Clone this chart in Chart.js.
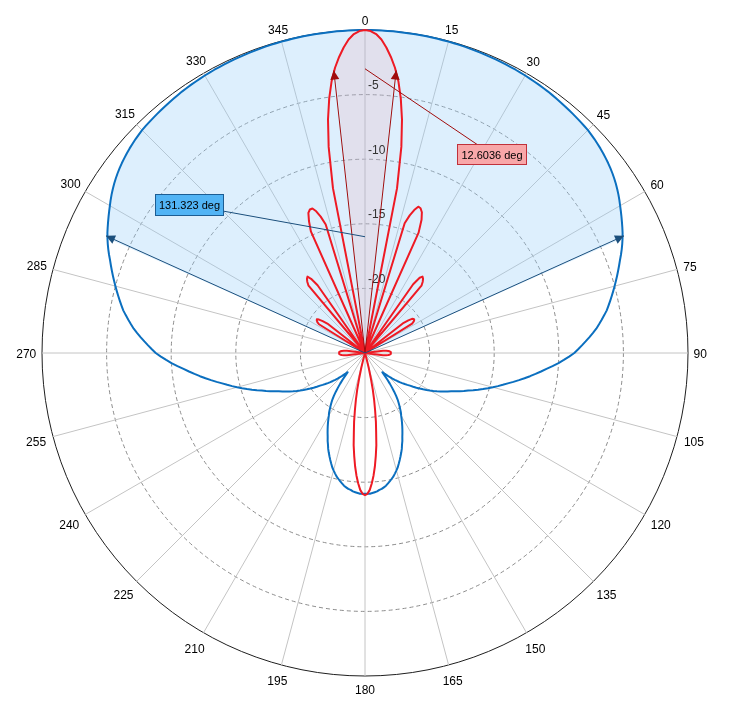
<!DOCTYPE html>
<html>
<head>
<meta charset="utf-8">
<title>Radiation pattern</title>
<script src="https://cdn.jsdelivr.net/npm/chart.js@4.4.1/dist/chart.umd.min.js"></script>
<style>
  html, body { margin: 0; padding: 0; background: #ffffff; }
  #wrap { width: 729px; height: 709px; position: relative; }
</style>
</head>
<body>
<div id="wrap"><canvas id="polarChart"></canvas></div>
<script>
// ---------- Data ----------
// one label per degree, 0 at the top, running clockwise
const angles = Array.from({ length: 360 }, (_, i) => i);
const angleTicks = [0, 15, 30, 45, 60, 75, 90, 105, 120, 135, 150, 165,
                    180, 195, 210, 225, 240, 255, 270, 285, 300, 315, 330, 345];
const radialTicks = [-20, -15, -10, -5];
const rMin = -25;
const rMax = 0;

// red pattern (dB), -25 = at / below the plot floor
const redDb = [
  0, -0.08, -0.3, -0.7, -1.3, -2.0, -2.8, -3.8, -5.1, -6.7,             // 0
  -8.8, -12.0, -25, -25, -25, -25, -25, -14.5, -13.8, -13.3,            // 10
  -12.95, -13.0, -13.25, -13.8, -14.8, -25, -25, -25, -25, -25,         // 20
  -25, -25, -25, -25, -25, -18.5, -17.8, -17.6, -17.7, -17.9,           // 30
  -18.2, -25, -25, -25, -25, -25, -25, -25, -25, -25,                   // 40
  -25, -25, -21.2, -20.8, -20.5, -20.4, -20.4, -20.5, -20.7, -25,       // 50
  -25, -25, -25, -25, -25, -25, -25, -25, -25, -25,                     // 60
  -25, -25, -25, -25, -25, -25, -25, -25, -25, -25,                     // 70
  -25, -25, -25, -23.6, -23.35, -23.2, -23.1, -23.05, -23.0, -23.0,     // 80
  -23.0, -23.0, -23.0, -23.05, -23.1, -23.2, -23.35, -23.6, -25, -25,   // 90
  -25, -25, -25, -25, -25, -25, -25, -25, -25, -25,                     // 100
  -25, -25, -25, -25, -25, -25, -25, -25, -25, -25,                     // 110
  -25, -25, -25, -25, -25, -25, -25, -25, -25, -25,                     // 120
  -25, -25, -25, -25, -25, -25, -25, -25, -25, -25,                     // 130
  -25, -25, -25, -25, -25, -25, -25, -25, -25, -25,                     // 140
  -25, -25, -25, -25, -25, -25, -25, -25, -25, -25,                     // 150
  -25, -25, -25, -25, -25, -24.5, -23.8, -23.0, -22.1, -21.3,           // 160
  -20.5, -19.6, -18.8, -17.8, -17.0, -16.2, -15.5, -14.9, -14.4, -14.1, // 170
  -14.0, -14.1, -14.4, -14.9, -15.5, -16.2, -17.0, -17.8, -18.8, -19.6, // 180
  -20.5, -21.3, -22.1, -23.0, -23.8, -24.5, -25, -25, -25, -25,         // 190
  -25, -25, -25, -25, -25, -25, -25, -25, -25, -25,                     // 200
  -25, -25, -25, -25, -25, -25, -25, -25, -25, -25,                     // 210
  -25, -25, -25, -25, -25, -25, -25, -25, -25, -25,                     // 220
  -25, -25, -25, -25, -25, -25, -25, -25, -25, -25,                     // 230
  -25, -25, -25, -25, -25, -25, -25, -25, -25, -25,                     // 240
  -25, -25, -25, -25, -25, -25, -25, -25, -25, -25,                     // 250
  -25, -25, -25, -23.6, -23.35, -23.2, -23.1, -23.05, -23.0, -23.0,     // 260
  -23.0, -23.0, -23.0, -23.05, -23.1, -23.2, -23.35, -23.6, -25, -25,   // 270
  -25, -25, -25, -25, -25, -25, -25, -25, -25, -25,                     // 280
  -25, -25, -25, -25, -25, -25, -25, -25, -25, -25,                     // 290
  -25, -25, -20.8, -20.6, -20.5, -20.45, -20.6, -20.9, -21.3, -25,      // 300
  -25, -25, -25, -25, -25, -25, -25, -25, -25, -25,                     // 310
  -18.2, -17.9, -17.7, -17.6, -17.9, -18.6, -25, -25, -25, -25,         // 320
  -25, -25, -25, -25, -25, -25, -14.7, -13.9, -13.3, -13.1,             // 330
  -13.1, -13.4, -13.9, -14.6, -25, -25, -25, -25, -25, -12.0,           // 340
  -8.8, -6.7, -5.1, -3.8, -2.8, -2.0, -1.3, -0.7, -0.3, -0.08           // 350
];

// blue pattern (dB)
const blueDb = [
  0, 0, 0, 0, -0.01, -0.01, -0.01, -0.02, -0.02, -0.03,                         // 0
  -0.03, -0.03, -0.04, -0.04, -0.05, -0.05, -0.06, -0.06, -0.07, -0.08,         // 10
  -0.09, -0.1, -0.11, -0.12, -0.13, -0.14, -0.15, -0.16, -0.17, -0.185,         // 20
  -0.2, -0.22, -0.24, -0.26, -0.28, -0.3, -0.33, -0.36, -0.39, -0.42,           // 30
  -0.45, -0.48, -0.51, -0.54, -0.57, -0.6, -0.66, -0.72, -0.79, -0.86,          // 40
  -0.94, -1.03, -1.12, -1.22, -1.33, -1.45, -1.58, -1.72, -1.87, -2.03,         // 50
  -2.2, -2.36, -2.52, -2.68, -2.84, -3.0, -3.18, -3.37, -3.57, -3.78,           // 60
  -4.0, -4.2, -4.4, -4.6, -4.8, -5.0, -5.2, -5.4, -5.6, -5.8,                   // 70
  -6.0, -6.25, -6.5, -6.75, -7.0, -7.3, -7.6, -7.9, -8.2, -8.5,                 // 80
  -8.8, -9.2, -9.6, -10.0, -10.45, -10.9, -11.3, -11.7, -12.1, -12.5,           // 90
  -12.9, -13.3, -13.7, -14.05, -14.4, -14.75, -15.1, -15.45, -15.8, -16.15,     // 100
  -16.5, -16.8, -17.1, -17.4, -17.7, -17.95, -18.2, -18.45, -18.7, -18.95,      // 110
  -19.2, -19.45, -19.7, -19.95, -20.2, -20.45, -20.7, -20.9, -21.1, -21.3,      // 120
  -21.5, -21.7, -21.9, -22.1, -22.3, -22.5, -22.7, -22.85, -23.0, -22.7,        // 130
  -22.3, -21.95, -21.6, -21.25, -20.9, -20.6, -20.35, -20.1, -19.85, -19.6,     // 140
  -19.4, -19.15, -18.9, -18.65, -18.4, -18.15, -17.9, -17.6, -17.35, -17.05,    // 150
  -16.8, -16.55, -16.3, -16.05, -15.8, -15.6, -15.4, -15.2, -15.05, -14.9,      // 160
  -14.75, -14.6, -14.5, -14.4, -14.35, -14.25, -14.2, -14.15, -14.1, -14.1,     // 170
  -14.1, -14.1, -14.1, -14.15, -14.2, -14.25, -14.35, -14.4, -14.5, -14.6,      // 180
  -14.75, -14.9, -15.05, -15.2, -15.4, -15.6, -15.8, -16.05, -16.3, -16.55,     // 190
  -16.8, -17.05, -17.35, -17.6, -17.9, -18.15, -18.4, -18.65, -18.9, -19.15,    // 200
  -19.4, -19.6, -19.85, -20.1, -20.35, -20.6, -20.9, -21.25, -21.6, -21.95,     // 210
  -22.3, -22.7, -23.0, -22.85, -22.7, -22.5, -22.3, -22.1, -21.9, -21.7,        // 220
  -21.5, -21.3, -21.1, -20.9, -20.7, -20.45, -20.2, -19.95, -19.7, -19.45,      // 230
  -19.2, -18.95, -18.7, -18.45, -18.2, -17.95, -17.7, -17.4, -17.1, -16.8,      // 240
  -16.5, -16.15, -15.8, -15.45, -15.1, -14.75, -14.4, -14.05, -13.7, -13.3,     // 250
  -12.9, -12.5, -12.1, -11.7, -11.3, -10.9, -10.45, -10.0, -9.6, -9.2,          // 260
  -8.8, -8.5, -8.2, -7.9, -7.6, -7.3, -7.0, -6.75, -6.5, -6.25,                 // 270
  -6.0, -5.8, -5.6, -5.4, -5.2, -5.0, -4.8, -4.6, -4.4, -4.2,                   // 280
  -4.0, -3.78, -3.57, -3.37, -3.18, -3.0, -2.84, -2.68, -2.52, -2.36,           // 290
  -2.2, -2.03, -1.87, -1.72, -1.58, -1.45, -1.33, -1.22, -1.12, -1.03,          // 300
  -0.94, -0.86, -0.79, -0.72, -0.66, -0.6, -0.57, -0.54, -0.51, -0.48,          // 310
  -0.45, -0.42, -0.39, -0.36, -0.33, -0.3, -0.28, -0.26, -0.24, -0.22,          // 320
  -0.2, -0.185, -0.17, -0.16, -0.15, -0.14, -0.13, -0.12, -0.11, -0.1,          // 330
  -0.09, -0.08, -0.07, -0.06, -0.06, -0.05, -0.05, -0.04, -0.04, -0.03,         // 340
  -0.03, -0.03, -0.02, -0.02, -0.01, -0.01, -0.01, 0, 0, 0                      // 350
];

// -3 dB beamwidths (deg)
const redBeamwidth = 12.6036;
const blueBeamwidth = 131.323;
const beamEdgeDb = -3;

// ---------- Helpers ----------
const FONT = '"Liberation Sans", Arial, sans-serif';

// keep the pattern inside the beamwidth sector, drop the rest to the floor
function sectorOf(values, beamwidth) {
    const half = Math.round(beamwidth / 2);
    return values.map((v, i) => (i <= half || i >= 360 - half) ? v : rMin);
}

const beamNotes = [
    { width: redBeamwidth,  line: "#a00c0c", fill: "#f8a7a9", border: "#c0313b",
      anchorDb: -3,  box: { dx: 92,   dy: -209, w: 70, h: 21 } },
    { width: blueBeamwidth, line: "#1b4f7c", fill: "#52b4f5", border: "#1d5d93",
      anchorDb: -16, box: { dx: -210, dy: -159, w: 69, h: 22 } }
];

// angle labels, radial tick labels, beamwidth arrows and callouts
const polarExtras = {
    id: "polarExtras",
    afterDatasetsDraw(chart) {
        const s = chart.scales.r;
        const ctx = chart.ctx;
        const cx = s.xCenter, cy = s.yCenter;
        const outer = s.getDistanceFromCenterForValue(rMax);

        function at(deg, db) {
            const d = s.getDistanceFromCenterForValue(db);
            const a = deg * Math.PI / 180 - Math.PI / 2;
            return { x: cx + Math.cos(a) * d, y: cy + Math.sin(a) * d };
        }

        ctx.save();

        // angle labels: push each box out until it clears the outer ring
        ctx.font = "12px " + FONT;
        ctx.fillStyle = "#000";
        ctx.textAlign = "center";
        ctx.textBaseline = "middle";
        angleTicks.forEach(deg => {
            const text = String(deg);
            const wx = ctx.measureText(text).width / 2 + 1.5;
            const a = deg * Math.PI / 180;
            const ux = Math.sin(a), uy = -Math.cos(a);
            const hy = uy < 0 ? 6 : 9;
            let d = outer;
            for (; d < outer + 40; d += 0.25) {
                const nx = Math.max(Math.abs(ux * d) - wx, 0);
                const ny = Math.max(Math.abs(uy * d) - hy, 0);
                if (Math.hypot(nx, ny) >= outer + 4) break;
            }
            ctx.fillText(text, cx + ux * d, cy + uy * d + 1.5);
        });

        // radial ticks, right of the 0 deg spoke
        ctx.fillStyle = "#333";
        ctx.textAlign = "left";
        radialTicks.forEach(v => {
            const p = at(0, v);
            ctx.fillText(String(v), cx + 3, p.y - 9);
        });

        beamNotes.forEach(n => {
            const half = n.width / 2;
            ctx.strokeStyle = n.line;
            ctx.fillStyle = n.line;
            ctx.lineWidth = 1;
            [-half, half].forEach(deg => {
                const tip = at(deg, beamEdgeDb);
                ctx.beginPath();
                ctx.moveTo(cx, cy);
                ctx.lineTo(tip.x, tip.y);
                ctx.stroke();
                const a = Math.atan2(tip.y - cy, tip.x - cx);
                const len = 9, wid = 4.5;
                const bx = tip.x - Math.cos(a) * len, by = tip.y - Math.sin(a) * len;
                ctx.beginPath();
                ctx.moveTo(tip.x, tip.y);
                ctx.lineTo(bx + Math.sin(a) * wid, by - Math.cos(a) * wid);
                ctx.lineTo(bx - Math.sin(a) * wid, by + Math.cos(a) * wid);
                ctx.closePath();
                ctx.fill();
            });

            const anchor = at(0, n.anchorDb);
            const bx = Math.round(cx + n.box.dx), by = Math.round(cy + n.box.dy);
            ctx.beginPath();
            ctx.moveTo(anchor.x, anchor.y);
            ctx.lineTo(bx + n.box.w / 2, by + n.box.h / 2);
            ctx.stroke();

            ctx.fillStyle = n.fill;
            ctx.fillRect(bx, by, n.box.w, n.box.h);
            ctx.strokeStyle = n.border;
            ctx.strokeRect(bx + 0.5, by + 0.5, n.box.w - 1, n.box.h - 1);
            ctx.fillStyle = "#000";
            ctx.font = "11px " + FONT;
            ctx.textAlign = "center";
            ctx.fillText(n.width + " deg", bx + n.box.w / 2, by + n.box.h / 2 + 1);
        });
        ctx.restore();
    }
};

// ---------- Chart ----------
const ctx = document.getElementById("polarChart").getContext("2d");
new Chart(ctx, {
    type: "radar",
    data: {
        labels: angles,
        datasets: [
            { label: "red", data: redDb, borderColor: "#ee1a24", borderWidth: 2, fill: false, order: 0 },
            { label: "blue", data: blueDb, borderColor: "#0b6fbf", borderWidth: 2, fill: false, order: 1 },
            { label: "red sector", data: sectorOf(redDb, redBeamwidth), borderColor: "transparent", borderWidth: 1,
              backgroundColor: "rgba(240,140,150,0.16)", fill: "start", order: 2 },
            { label: "blue sector", data: sectorOf(blueDb, blueBeamwidth), borderColor: "transparent", borderWidth: 1,
              backgroundColor: "rgba(150,205,248,0.32)", fill: "start", order: 3 }
        ]
    },
    options: {
        responsive: true,
        maintainAspectRatio: false,
        animation: false,
        events: [],
        layout: { padding: { top: 30, bottom: 33, left: 1, right: 0 } },
        plugins: { legend: { display: false }, tooltip: { enabled: false } },
        elements: { point: { radius: 0, hoverRadius: 0 }, line: { tension: 0, borderJoinStyle: "round" } },
        scales: {
            r: {
                min: rMin,
                max: rMax,
                ticks: { stepSize: 5, display: false },
                grid: {
                    circular: true,
                    lineWidth: 1,
                    color: c => (c.tick && c.tick.value === rMax) ? "#1e1e1e" : "#8c8c8c"
                },
                border: { dash: c => (c.tick && c.tick.value === rMax) ? [] : [4, 3] },
                angleLines: {
                    color: "#c4c4c4",
                    lineWidth: c => angleTicks.includes(c.index) ? 1 : 0
                },
                pointLabels: { display: false }
            }
        }
    },
    plugins: [polarExtras]
});
</script>
</body>
</html>
